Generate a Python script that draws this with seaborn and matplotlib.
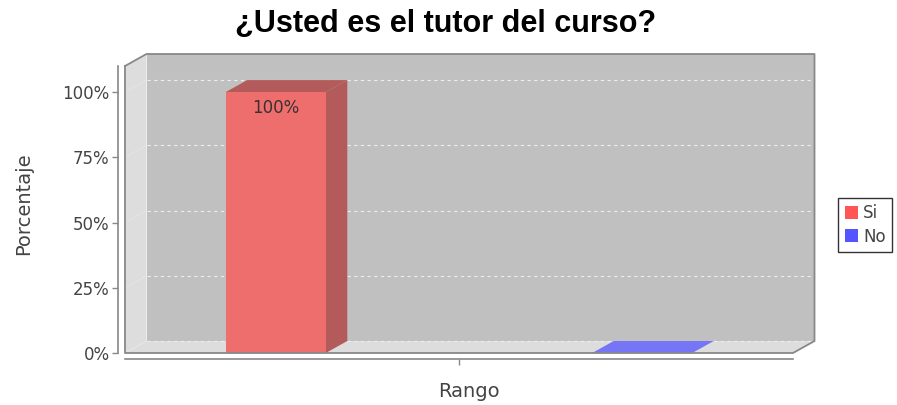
import matplotlib
matplotlib.use("Agg")
import matplotlib.pyplot as plt
from matplotlib.patches import Polygon, Patch
from matplotlib.lines import Line2D
import seaborn as sns
import pandas as pd

# Data
rango = ["", ""]
respuestas = ["Si", "No"]
porcentajes = [100, 0]
y_ticks = [0, 25, 50, 75, 100]
y_tick_labels = ["0%", "25%", "50%", "75%", "100%"]

# Colours (JFreeChart-like 3D look)
legend_colors = {"Si": "#FF5555", "No": "#5555FF"}
front_colors = {"Si": "#EE6E6E", "No": "#7575F5"}
side_colors = {"Si": "#B35A5A", "No": "#5A5AB3"}
TEXT = "#444444"
EDGE = "#888888"

# 3D depth offset in pixels
DX_PX, DY_PX = 21.5, 12.0

sns.set_theme(style="white")
plt.rcParams["font.family"] = ["DejaVu Sans"]

W, H = 897, 405
fig = plt.figure(figsize=(W / 100, H / 100), dpi=100)
ax = fig.add_axes([125 / W, 1 - 353 / H, (793 - 125) / W, (353 - 66) / H])

df = pd.DataFrame({"rango": rango, "respuesta": respuestas, "porcentaje": porcentajes})
sns.barplot(data=df, x="rango", y="porcentaje", hue="respuesta", hue_order=respuestas,
            palette=front_colors, width=0.8, gap=0.727, dodge=True, saturation=1,
            legend=False, ax=ax, zorder=3, linewidth=0, edgecolor="none")
bars = list(ax.patches)

ax.set_xlim(-0.3646, 0.3646)
ax.set_ylim(0, 110)
ax.set_facecolor("none")

# offsets in axes fraction and data units
bbox = ax.get_window_extent()
dxa, dya = DX_PX / bbox.width, DY_PX / bbox.height
p0 = ax.transData.transform((0, 0))
p1 = ax.transData.transform((1, 1))
dxd, dyd = DX_PX / (p1[0] - p0[0]), DY_PX / (p1[1] - p0[1])

# walls
back = Polygon([(dxa, dya), (1 + dxa, dya), (1 + dxa, 1 + dya), (dxa, 1 + dya)],
               closed=True, transform=ax.transAxes, facecolor="#C0C0C0",
               edgecolor="none", clip_on=False, zorder=0.1)
left = Polygon([(0, 0), (0, 1), (dxa, 1 + dya), (dxa, dya)], closed=True,
               transform=ax.transAxes, facecolor="#DDDDDD", edgecolor="none",
               clip_on=False, zorder=0.2)
floor = Polygon([(0, 0), (1, 0), (1 + dxa, dya), (dxa, dya)], closed=True,
                transform=ax.transAxes, facecolor="#DDDDDD", edgecolor="none",
                clip_on=False, zorder=0.2)
for p in (back, left, floor):
    ax.add_patch(p)

# gridlines on back wall (and faint on left wall)
ytrans = ax.get_yaxis_transform()
for y in y_ticks:
    yb = y + dyd
    ax.add_line(Line2D([dxa, 1 + dxa], [yb, yb], transform=ytrans, color="#EEEEEE",
                       lw=0.8, ls=(0, (3, 3)), clip_on=False, zorder=0.3))
    ax.add_line(Line2D([0, dxa], [y, yb], transform=ytrans, color="#EEEEEE",
                       lw=0.6, alpha=0.5, clip_on=False, zorder=0.3))

# outline of the box
ax.add_line(Line2D([0, 0, 1, 1 + dxa, 1 + dxa, dxa, 0],
                   [1, 0, 0, dya, 1 + dya, 1 + dya, 1],
                   transform=ax.transAxes, color=EDGE, lw=1.3, clip_on=False, zorder=5))

# 3D faces for each bar
for bar, resp in zip(bars, respuestas):
    x0 = bar.get_x()
    x1 = x0 + bar.get_width()
    h = bar.get_height()
    top_color = side_colors[resp] if h > 0 else front_colors[resp]
    top = Polygon([(x0, h), (x1, h), (x1 + dxd, h + dyd), (x0 + dxd, h + dyd)],
                  closed=True, facecolor=top_color, edgecolor="none",
                  clip_on=False, zorder=2.9)
    ax.add_patch(top)
    if h > 0:
        side = Polygon([(x1, 0), (x1, h), (x1 + dxd, h + dyd), (x1 + dxd, dyd)],
                       closed=True, facecolor=side_colors[resp], edgecolor="none",
                       clip_on=False, zorder=2.9)
        ax.add_patch(side)
        ax.annotate(f"{h:.0f}%", xy=(x0 + bar.get_width() / 2, h),
                    xytext=(0, -5), textcoords="offset points", ha="center",
                    va="top", fontsize=12, color="#3A3030", zorder=4)

# axes
for s in ("top", "right"):
    ax.spines[s].set_visible(False)
ax.spines["left"].set_position(("outward", 5))
ax.spines["bottom"].set_position(("outward", 4.3))
for s in ("left", "bottom"):
    ax.spines[s].set_color(EDGE)
    ax.spines[s].set_linewidth(1.2)
ax.set_yticks(y_ticks)
ax.set_yticklabels(y_tick_labels)
ax.set_xticks([0])
ax.set_xticklabels([""])
ax.tick_params(axis="both", direction="out", length=4, width=1, color=EDGE,
               labelsize=12, labelcolor=TEXT, pad=2)
ax.tick_params(axis="y", left=True)
ax.tick_params(axis="x", bottom=True)

ax.set_ylabel("Porcentaje", fontsize=14, color=TEXT)
ax.yaxis.set_label_coords(-0.137, 0.52)
ax.set_xlabel("Rango", fontsize=14, color=TEXT)
ax.xaxis.set_label_coords(0.515, -0.10)

fig.text(0.497, 1 - 24 / H, "¿Usted es el tutor del curso?", ha="center", va="center",
         fontsize=22, fontweight="bold", color="black",
         family=["Liberation Sans", "DejaVu Sans"])

handles = [Patch(facecolor=legend_colors[r], edgecolor="none", label=r) for r in respuestas]
leg = fig.legend(handles=handles, loc="center left", bbox_to_anchor=(838 / W, 1 - 225 / H),
                 fontsize=12, frameon=True, fancybox=False, shadow=False,
                 handlelength=0.8, handleheight=0.8, handletextpad=0.3,
                 borderpad=0.4, labelspacing=0.3, borderaxespad=0)
leg.get_frame().set_edgecolor("black")
leg.get_frame().set_linewidth(1)
for t in leg.get_texts():
    t.set_color(TEXT)

fig.savefig("out.png", dpi=100)
